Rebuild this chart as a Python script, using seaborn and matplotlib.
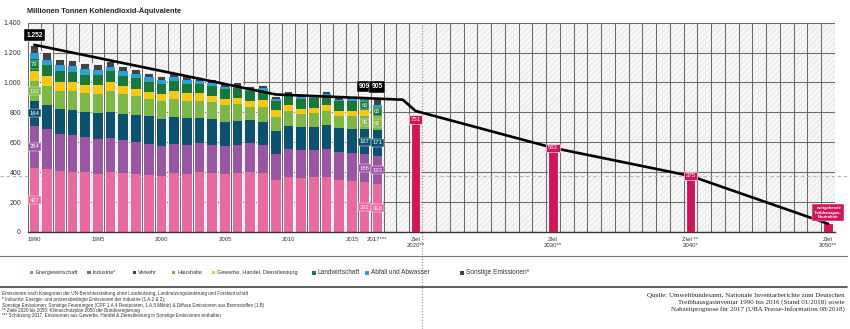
import numpy as np
import pandas as pd
import matplotlib
matplotlib.use("Agg")
import matplotlib.pyplot as plt
import seaborn as sns
from matplotlib.patches import Rectangle
from matplotlib.lines import Line2D
from matplotlib.ticker import FuncFormatter

# ---------------- data (Mio. t CO2-Äquivalente) ----------------
years = list(range(1990, 2018))
energie = [427, 421, 411, 401, 398, 387, 401, 393, 389, 381, 377, 394, 390, 402,
           395, 387, 395, 401, 395, 350, 370, 364, 366, 369, 351, 338, 332, 318]
industrie = [284, 266, 245, 245, 238, 235, 228, 222, 215, 210, 200, 195, 195, 190,
             190, 188, 190, 195, 190, 170, 185, 185, 183, 185, 185, 188, 188, 193]
verkehr = [164, 165, 170, 170, 170, 175, 175, 177, 180, 183, 181, 178, 176, 170,
           170, 160, 158, 153, 153, 153, 153, 155, 155, 159, 160, 163, 167, 171]
haushalte = [132, 125, 120, 128, 122, 128, 140, 130, 125, 115, 118, 125, 118, 117,
             112, 112, 110, 87, 100, 98, 100, 85, 90, 94, 78, 85, 91, 91]
ghd = [72, 66, 60, 60, 55, 55, 60, 52, 50, 48, 46, 50, 48, 48,
       46, 44, 45, 40, 43, 42, 42, 37, 38, 40, 35, 37, 38, 0]
landwirtschaft = [79, 72, 70, 69, 70, 70, 70, 69, 68, 69, 68, 67, 66, 65,
                  66, 65, 64, 64, 65, 65, 63, 63, 64, 66, 66, 66, 65, 65]
abfall = [38, 38, 38, 37, 36, 35, 33, 32, 30, 28, 27, 25, 23, 21,
          19, 17, 16, 15, 14, 13, 12, 12, 11, 11, 10, 10, 10, 10]
sonstige = [56, 50, 45, 42, 40, 38, 38, 36, 33, 30, 28, 27, 26, 25,
            24, 22, 22, 21, 20, 19, 19, 18, 18, 18, 17, 17, 18, 57]

categories = ["Energiewirtschaft", "Industrie*", "Verkehr", "Haushalte",
              "Gewerbe, Handel, Dienstleistung", "Landwirtschaft",
              "Abfall und Abwasser", "Sonstige Emissionen*"]
series = [energie, industrie, verkehr, haushalte, ghd, landwirtschaft, abfall, sonstige]
colors = ["#ea6a9f", "#9b55a5", "#0b5270", "#7cb843",
          "#f9c80e", "#157a37", "#29a0d8", "#434347"]

label_years = [1990, 2016, 2017]
labelled_categories = ["Energiewirtschaft", "Industrie*", "Verkehr", "Haushalte", "Landwirtschaft"]

target_years = [2020, 2030, 2040, 2050]
target_vals = [751, 563, 375, 62]
target_texts = ["751", "563", "375", "weitgehende\nTreibhausgas-\nNeutralität"]
target_color = "#d4145a"

trend_years = [1990, 2009, 2019, 2020, 2030, 2040, 2050]
trend_vals = [1252, 920, 885, 810, 563, 375, 55]

xtick_years = [1990, 1995, 2000, 2005, 2010, 2015, 2017, 2020, 2030, 2040, 2050]
xtick_labels = ["1990", "1995", "2000", "2005", "2010", "2015", "2017***",
                "Ziel\n2020**", "Ziel\n2030**", "Ziel **\n2040*", "Ziel\n2050**"]
yticks = [0, 200, 400, 600, 800, 1000, 1200, 1400]
ref_level = 375

title = "Millionen Tonnen Kohlendioxid-Äquivalente"
footnotes = [
    "Emissionen nach Kategorien der UN-Berichterstattung ohne Landnutzung, Landnutzungsänderung und Forstwirtschaft",
    "* Industrie: Energie- und prozessbedingte Emissionen der Industrie (1.A.2 & 2);",
    "Sonstige Emissionen: Sonstige Feuerungen (CRF 1.A.4 Restposten, 1.A.5 Militär) & Diffuse Emissionen aus Brennstoffen (1.B)",
    "** Ziele 2020 bis 2050: Klimaschutzplan 2050 der Bundesregierung",
    "*** Schätzung 2017, Emissionen aus Gewerbe, Handel & Dienstleistung in Sonstige Emissionen enthalten",
]
source_lines = [
    "Quelle: Umweltbundesamt, Nationale Inventarberichte zum Deutschen",
    "Treibhausgasinventar 1990 bis 2016 (Stand 01/2018) sowie",
    "Nahzeitprognose für 2017 (UBA Presse-Information 08/2018)",
]

# ---------------- style ----------------
sns.set_theme(style="white")
plt.rcParams["font.family"] = ["Liberation Sans", "DejaVu Sans"]
plt.rcParams["hatch.linewidth"] = 0.3

W, H = 850, 329
fig = plt.figure(figsize=(8.5, 3.29), dpi=100)
ax_l, ax_r, ax_t, ax_b = 28, 835, 22.7, 232
ax = fig.add_axes([ax_l / W, 1 - ax_b / H, (ax_r - ax_l) / W, (ax_b - ax_t) / H])

# piecewise linear year axis (target section is drawn slightly wider)
R = 13.75 / 12.7


def fwd(x):
    x = np.asarray(x, dtype=float)
    return np.where(x <= 2020, x, 2020 + (x - 2020) * R)


def inv(x):
    x = np.asarray(x, dtype=float)
    return np.where(x <= 2020, x, 2020 + (x - 2020) / R)


ax.set_xscale("function", functions=(fwd, inv))

# hatched background
ax.add_patch(Rectangle((0, 0), 1, 1, transform=ax.transAxes, facecolor="#f6f6f6",
                       edgecolor="#d4d4d4", hatch="//////", lw=0, zorder=0.1))

# stacked bars (draw cumulative totals from the top layer down)
cum = np.cumsum(np.array(series), axis=0)
df = pd.DataFrame({"year": years})
n = len(series)
for i in range(n - 1, -1, -1):
    df["v"] = cum[i]
    sns.barplot(data=df, x="year", y="v", native_scale=True, width=0.76,
                color=colors[i], saturation=1, errorbar=None,
                edgecolor="white", linewidth=1.3 if i == n - 1 else 0,
                ax=ax, zorder=3)

# target bars
sns.barplot(x=target_years, y=target_vals, native_scale=True, width=0.068,
            color=target_color, saturation=1, errorbar=None,
            edgecolor="white", linewidth=0.8, ax=ax, zorder=3)

# trend line
sns.lineplot(x=trend_years, y=trend_vals, color="black", lw=1.9, ax=ax, zorder=5)

ax.set_xlim(1989.55, 2050.5)
ax.set_ylim(0, 1400)
ax.set_xlabel("")
ax.set_ylabel("")

# ticks & grid
ax.set_xticks(xtick_years, xtick_labels)
grid_pos = [y + 0.5 for y in range(1989, 2051) if y != 2020]
ax.set_xticks(grid_pos, minor=True)
ax.set_yticks(yticks)
ax.yaxis.set_major_formatter(FuncFormatter(lambda v, p: f"{int(v):,}".replace(",", ".")))
ax.grid(False)
ax.xaxis.grid(True, which="minor", color="#6a6a6a", lw=0.75)
ax.yaxis.grid(True, which="major", color="#6a6a6a", lw=0.75)
ax.set_axisbelow(True)
ax.tick_params(axis="x", which="major", length=0, pad=3.5, labelsize=4.3, labelcolor="#333333")
ax.tick_params(axis="x", which="minor", length=2.5, width=0.6, color="#333333", direction="out")
ax.tick_params(axis="y", length=0, pad=5, labelsize=5, labelcolor="#333333")
for s in ["left", "right", "top"]:
    ax.spines[s].set_visible(False)
ax.spines["bottom"].set_color("#333333")
ax.spines["bottom"].set_linewidth(1.0)
ax.spines["bottom"].set_zorder(6)

# reference lines
ax.axhline(ref_level, xmin=-ax_l / (ax_r - ax_l), xmax=(W - ax_l) / (ax_r - ax_l),
           clip_on=False, color="#b5b5b5", lw=0.8, ls=(0, (3, 2.5)), zorder=1)
ax.axvline(2020.5, ymin=-(H - ax_b) / (ax_b - ax_t), ymax=1, clip_on=False,
           color="#8a8a8a", lw=0.8, ls=(0, (1, 1.6)), zorder=2)

# segment labels
for yr in label_years:
    idx = years.index(yr)
    for cat in labelled_categories:
        c = categories.index(cat)
        v = series[c][idx]
        bottom = cum[c - 1][idx] if c > 0 else 0
        ax.text(yr, bottom + v / 2, str(v), ha="center", va="center", fontsize=4.2,
                color="white", zorder=7,
                bbox=dict(boxstyle="square,pad=0.25", fc=colors[c], ec="white", lw=0.3))
    tot = int(cum[-1][idx])
    ax.text(yr, tot + 65, f"{tot:,}".replace(",", "."), ha="center", va="center",
            fontsize=4.8, fontweight="bold", color="white", zorder=7,
            bbox=dict(boxstyle="square,pad=0.35", fc="black", ec="white", lw=0.3))

# target labels
for yr, v, t in zip(target_years, target_vals, target_texts):
    if "\n" in t:
        ax.text(yr, v + 25, t, ha="center", va="bottom", fontsize=3.0, linespacing=1.15,
                color="white", fontweight="bold", zorder=7,
                bbox=dict(boxstyle="square,pad=0.55", fc=target_color, ec="white", lw=0.3))
    else:
        ax.text(yr, v, t, ha="center", va="center", fontsize=4.3, color="white", zorder=7,
                bbox=dict(boxstyle="square,pad=0.3", fc=target_color, ec="white", lw=0.4))

# title
fig.text(27 / W, 1 - 10.7 / H, title, fontsize=5.3, fontweight="bold", ha="left",
         va="center", color="#222222")

# separator lines
fig.add_artist(Line2D([0, 847 / W], [1 - 256 / H] * 2, color="#777777", lw=0.8))
fig.add_artist(Line2D([0, 847 / W], [1 - 287 / H] * 2, color="#444444", lw=1.2))

# legend (manual, as in the original)
leg_x = [30, 87.3, 132.7, 171.7, 211.7, 311.7, 365, 460]
leg_y = 1 - 272.7 / H
for i, (cat, col) in enumerate(zip(categories, colors)):
    big = i >= 5
    sq = 4.2 if big else 3.4
    fs = 4.7 if big else 4.0
    x0 = leg_x[i]
    fig.add_artist(Rectangle((x0 / W, leg_y - sq / 2 / H), sq / W, sq / H,
                             transform=fig.transFigure, facecolor=col, edgecolor="none"))
    fig.text((x0 + sq + 2) / W, leg_y, cat, fontsize=fs, ha="left", va="center",
             color="#333333")

# footnotes
for k, line in enumerate(footnotes):
    fig.text(2 / W, 1 - (294 + k * 5.5) / H, line, fontsize=3.3, ha="left",
             va="center", color="#333333")

# source
for k, line in enumerate(source_lines):
    fig.text(845 / W, 1 - (295 + k * 7) / H, line, fontsize=5.0, ha="right",
             va="center", color="#222222", family=["Liberation Serif", "DejaVu Serif"])

fig.savefig("out.png", dpi=100)
